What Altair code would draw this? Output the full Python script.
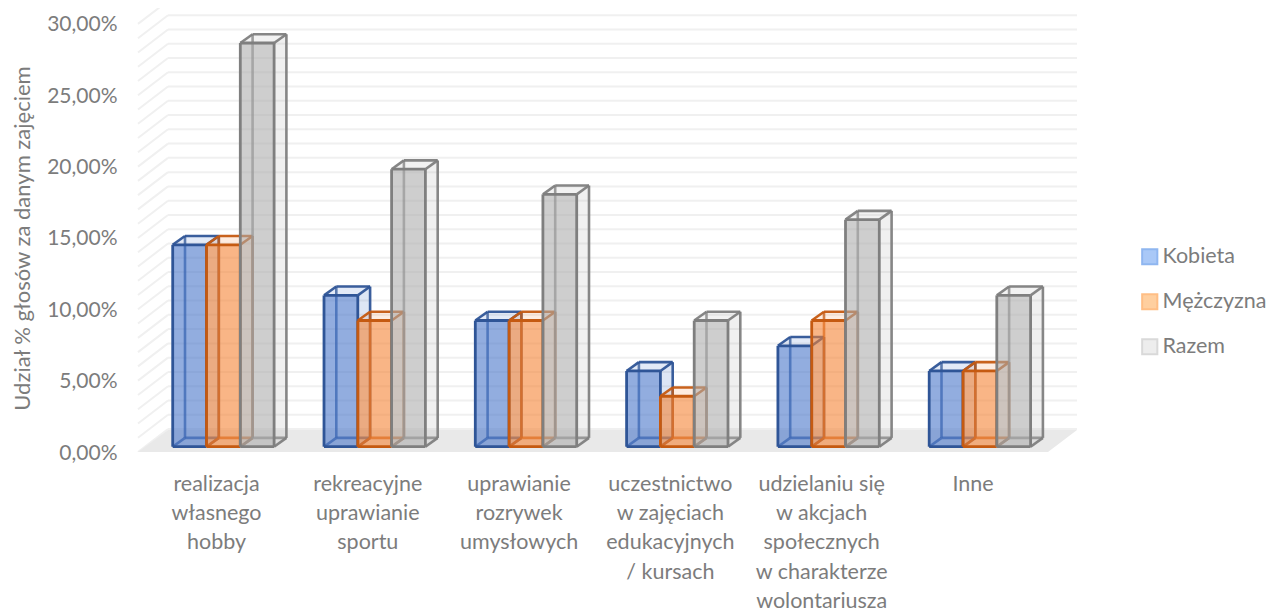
import altair as alt
import pandas as pd

categories = ["realizacja|własnego|hobby", "rekreacyjne|uprawianie|sportu",
              "uprawianie|rozrywek|umysłowych", "uczestnictwo|w zajęciach|edukacyjnych|/ kursach",
              "udzielaniu się|w akcjach|społecznych|w charakterze|wolontariusza", "Inne"]
kobieta = [14.29, 10.71, 8.93, 5.36, 7.14, 5.36]
mezczyzna = [14.29, 8.93, 8.93, 3.57, 8.93, 5.36]
razem = [28.57, 19.64, 17.86, 8.93, 16.07, 10.71]
series = ["Kobieta", "Mężczyzna", "Razem"]
values = [kobieta, mezczyzna, razem]
ticks = [0, 5, 10, 15, 20, 25, 30]
strokes = ["#2F5597", "#C55A11", "#7F7F7F"]
fills = ["#4472C8", "#F57F2F", "#ABABAB"]
legend_fill = ["#A9C8F7", "#FFCF9F", "#EDEDED"]
legend_stroke = ["#8FB6F0", "#FFBE85", "#D9D9D9"]

TXT = "#7c7c7c"
FONT = "Lato"
# projection of the pseudo-3D box
PX = 14.27          # px per % on walls
GROUP = 151.3       # px per category
LEFT, TOP = 125, 8
W, H = 1152, 444
def ux(px): return px / GROUP
def uy(px): return px / PX
X0 = 216            # page px of category 0 centre

xaxis = alt.Axis(values=list(range(6)), domain=False, ticks=False, grid=False, title=None,
                 labelExpr="split(" + str(categories) + "[datum.value], '|')",
                 labelFontSize=21.5, labelColor=TXT, labelFont=FONT, labelLineHeight=29.4,
                 labelBaseline="top", labelAlign="center", labelPadding=21,
                 labelFlush=False, labelOverlap=False, labelBound=False, labelAngle=0)
yaxis = alt.Axis(values=ticks, domain=False, ticks=False, grid=False,
                 labelExpr="replace(format(datum.value, '.2f'), '.', ',') + '%'",
                 labelFontSize=21, labelColor=TXT, labelFont=FONT, labelPadding=8, labelOffset=1,
                 labelFlush=False, labelOverlap=False, labelBound=False,
                 title="Udział % głosów za danym zajęciem", titleFont=FONT, titleFontSize=22,
                 titleFontWeight="normal", titleColor=TXT, titleX=22 - LEFT, titleY=238 - TOP,
                 titleAngle=-90, titleAlign="center", titleBaseline="middle")

xs = alt.Scale(domain=[(LEFT - X0) / GROUP, (LEFT + W - X0) / GROUP], nice=False, zero=False)
ys = alt.Scale(domain=[0, H / PX], nice=False, zero=False)
def X(f="x"): return alt.X(f"{f}:Q", scale=xs, axis=xaxis)
def Y(f="y"): return alt.Y(f"{f}:Q", scale=ys, axis=yaxis)

def page(px): return (px - X0) / GROUP

# floor
floor = pd.DataFrame({
    "x": [page(138), page(168), page(1048), page(1077)],
    "y": [0, uy(22), uy(22), uy(22)],
    "y2": [0, 0, 0, uy(22)],
})

# walls
grid_rows = []
for v in range(31):
    grid_rows.append({"x": page(168), "x2": page(1077), "y": v + uy(23), "y2": v + uy(23)})
    grid_rows.append({"x": page(138), "x2": page(168), "y": v, "y2": v + uy(23)})
walls = pd.DataFrame(grid_rows)
layers = [alt.Chart(walls).mark_rule(color="#F0F0F0", strokeWidth=2, clip=True).encode(
    x=X(), x2="x2:Q", y=Y(), y2="y2:Q")]
layers.append(alt.Chart(floor).mark_area(color="#E9E9E9", orient="vertical").encode(
    x=X(), y=Y(), y2="y2:Q"))

# bars
BASE = uy(5.3)
K = 14.13 / PX
BW = 33.8
DX, DY = 12.3, 8.8
for s, vals in enumerate(values):
    side, top, front, hidden, edges, frontedges = [], [], [], [], [], []
    for i, v in enumerate(vals):
        xl = ux(-43.3 + s * BW) + i
        xr = xl + ux(BW)
        dx, dy = ux(DX), uy(DY)
        b, t = BASE, BASE + v * K
        side += [dict(g=i, x=xr, y=t, y2=b), dict(g=i, x=xr + dx, y=t + dy, y2=b + dy)]
        top += [dict(g=i, x=xl, y=t, y2=t), dict(g=i, x=xl + dx, y=t + dy, y2=t),
                dict(g=i, x=xr, y=t + dy, y2=t), dict(g=i, x=xr + dx, y=t + dy, y2=t + dy)]
        front.append(dict(x=xl, x2=xr, y=t, y2=b))
        def e(x, x2, y, y2): return dict(x=x, x2=x2, y=y, y2=y2)
        hidden += [e(xl + dx, xl + dx, b + dy, t + dy), e(xl + dx, xr + dx, b + dy, b + dy),
                   e(xl, xl + dx, b, b + dy)]
        edges += [e(xr + dx, xr + dx, b + dy, t + dy), e(xl + dx, xr + dx, t + dy, t + dy),
                  e(xl, xl + dx, t, t + dy), e(xr, xr + dx, t, t + dy), e(xr, xr + dx, b, b + dy)]
        frontedges += [e(xl, xr, t, t), e(xl, xr, b, b), e(xl, xl, b, t), e(xr, xr, b, t)]
    c, st = fills[s], strokes[s]
    layers += [
        alt.Chart(pd.DataFrame(side)).mark_area(color=c, opacity=0.18, orient="vertical").encode(
            x=X(), y=Y(), y2="y2:Q", detail="g:N"),
        alt.Chart(pd.DataFrame(top)).mark_area(color=c, opacity=0.15, orient="vertical").encode(
            x=X(), y=Y(), y2="y2:Q", detail="g:N"),
        alt.Chart(pd.DataFrame(hidden)).mark_rule(color=st, strokeWidth=2.6, opacity=0.75).encode(
            x=X(), x2="x2:Q", y=Y(), y2="y2:Q"),
        alt.Chart(pd.DataFrame(edges)).mark_rule(color=st, strokeWidth=2.6, opacity=0.95).encode(
            x=X(), x2="x2:Q", y=Y(), y2="y2:Q"),
        alt.Chart(pd.DataFrame(front)).mark_rect(color=c, opacity=0.58).encode(
            x=X(), x2="x2:Q", y=Y(), y2="y2:Q"),
        alt.Chart(pd.DataFrame(frontedges)).mark_rule(color=st, strokeWidth=2.8).encode(
            x=X(), x2="x2:Q", y=Y(), y2="y2:Q"),
    ]

# legend (key only, rows have no position)
key = pd.DataFrame({"s": series, "x": [None] * 3, "y": [None] * 3})
layers.append(alt.Chart(key).mark_point(shape="square", filled=True, strokeWidth=2, opacity=1).encode(
    x=X(), y=Y(),
    color=alt.Color("s:N", scale=alt.Scale(domain=series, range=legend_fill),
                    legend=alt.Legend(title=None, orient="none", legendX=1141 - LEFT - 2, legendY=238,
                                      symbolSize=230, symbolType="square", symbolStrokeWidth=2,
                                      symbolOpacity=1,
                                      labelFontSize=21.5, labelFont=FONT, labelColor=TXT,
                                      rowPadding=21, labelOffset=2)),
    stroke=alt.Stroke("s:N", scale=alt.Scale(domain=series, range=legend_stroke), legend=None),
))

chart = alt.layer(*layers).properties(
    width=W, height=H,
    padding={"left": LEFT - 8, "top": 0, "right": 0, "bottom": 162},
    autosize=alt.AutoSizeParams(type="none"),
    background="white",
).configure_view(stroke=None)

chart.save("out.html", embed_options={"renderer": "svg", "actions": False})
